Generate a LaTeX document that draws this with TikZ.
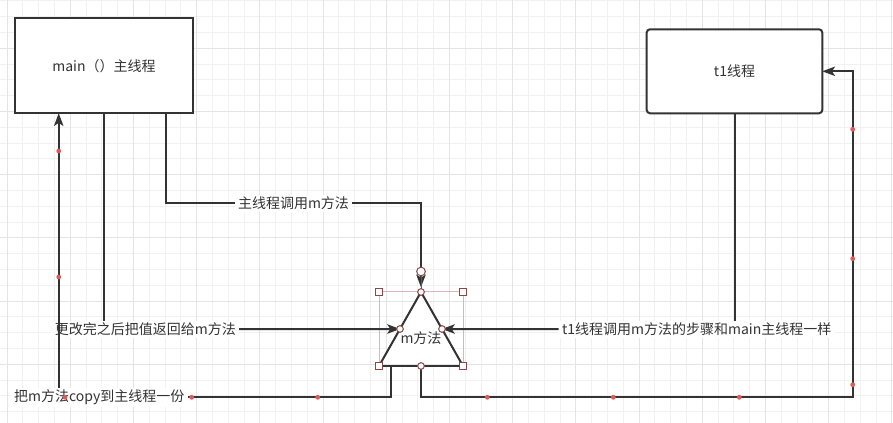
\documentclass[tikz,border=0pt]{standalone}
\usepackage{fontspec}
\setmainfont{Noto Sans CJK SC}
\usetikzlibrary{calc,arrows.meta}

\definecolor{linec}{HTML}{333333}
\definecolor{txtc}{HTML}{333333}
\definecolor{hdlc}{HTML}{8E4545}
\definecolor{selc}{HTML}{DDB5B5}
\definecolor{dotc}{HTML}{E05A5A}
\definecolor{gridminor}{HTML}{F1F1F1}
\definecolor{gridmajor}{HTML}{E4E4E4}
\newcommand{\fsz}{\fontsize{10.5pt}{12pt}\selectfont}

\begin{document}
\begin{tikzpicture}[x=0.75pt,y=-0.75pt,every node/.style={outer sep=0pt,inner sep=0pt,font=\fsz,text=txtc}]

	\tikzstyle{box}=[draw=linec,line width=1.5pt,fill=white]
	\tikzstyle{tag}=[fill=white,inner xsep=2.5pt,inner ysep=1.6pt]
	\tikzstyle{plain}=[draw=linec,line width=1.5pt]
	\tikzstyle{link}=[plain,-{Stealth[length=9.5pt,width=7pt,inset=2.2pt]}]
	\tikzstyle{ring}=[circle,draw=hdlc,fill=white,line width=0.75pt,minimum size=5pt]
	\tikzstyle{sq}=[rectangle,draw=hdlc,fill=white,line width=0.75pt,minimum size=5.5pt]
	\tikzstyle{reddot}=[circle,fill=dotc,minimum size=3.6pt]

	% background grid
	\fill[white] (0,0) rectangle (893,423);
	\useasboundingbox (0,0) rectangle (893,423);
	\foreach \k in {0,...,55}
		\draw[gridminor,line width=0.75pt] ({7+15.8*\k},0) -- ({7+15.8*\k},423);
	\foreach \k in {0,...,26}
		\draw[gridminor,line width=0.75pt] (0,{0.9+15.8*\k}) -- (893,{0.9+15.8*\k});
	\foreach \k in {0,...,14}
		\draw[gridmajor,line width=0.75pt] ({7+63.2*\k},0) -- ({7+63.2*\k},423);
	\foreach \k in {0,...,5}
		\draw[gridmajor,line width=0.75pt] (0,{48.3+63.2*\k}) -- (893,{48.3+63.2*\k});

	% threads
	\node (main) at (104,65.7) [box,minimum width=133.5pt,minimum height=71.25pt] {main（）主线程};
	\node (t1) at (734.5,71.3) [box,rounded corners=2.5pt,minimum width=131.7pt,minimum height=63pt] {t1线程};

	% method
	\node (m) at (421,329) [draw=selc,line width=0.75pt,minimum width=63pt,minimum height=55.5pt] {};
	\draw[plain,fill=white,line join=miter] (m.north) -- (m.south west) -- (m.south east) -- cycle;
	\node (mtxt) at ($(m.center)+(0,9)$) {m方法};
	\coordinate (mleft) at ($(m.north)!0.5!(m.south west)$);
	\coordinate (mright) at ($(m.north)!0.5!(m.south east)$);
	\coordinate (mtop) at ($(m.north)+(0,-20.5)$);

	\coordinate (mainR) at ($(main.south)+(61.7,0)$);
	\coordinate (mainIn) at ($(main.south)+(-45.3,0)$);
	\coordinate (cpy) at ($(m.south west)+(11.5,0)$);
	\coordinate (rc) at (852.7,397.3);

	% labels
	\node (lblCall) at (293.5,203.3) [tag] {主线程调用m方法};
	\node (lblBack) at (145.3,329.3) [tag] {更改完之后把值返回给m方法};
	\node (lblT1) at (696.7,329.3) [tag] {t1线程调用m方法的步骤和main主线程一样};
	\node (lblCopy) at (99.3,397.3) [tag] {把m方法copy到主线程一份};

	% connectors
	\draw[link,shorten >=3.5pt] (mainR) |- (lblCall) -| (m.north);
	\draw[plain] (main.south) -- (main.south |- lblBack.north);
	\draw[link] (lblBack) -- (mleft);
	\draw[plain] (t1.south) -- (t1.south |- lblT1.north);
	\draw[link] (lblT1) -- (mright);
	\draw[plain] (cpy) |- (lblCopy);
	\draw[link] (mainIn |- lblCopy.north) -- (mainIn);
	\draw[link] (m.south) |- (rc) |- (t1.east);

	% selection handles
	\draw[hdlc,line width=0.75pt] (mtop) -- (m.north);
	\node (htop) at (mtop) [ring,minimum size=6.5pt] {};
	\node (hn) at (m.north) [ring] {};
	\node (hw) at (mleft) [ring] {};
	\node (he) at (mright) [ring] {};
	\node (hs) at (m.south) [ring] {};
	\node (q1) at (m.north west) [sq] {};
	\node (q2) at (m.north east) [sq] {};
	\node (q3) at (m.south west) [sq] {};
	\node (q4) at (m.south east) [sq] {};

	\foreach \p in {(65,397.3),(191.7,397.3),(317.7,397.3),(58.7,151),(58.7,277),
		(487.3,397.3),(613.3,397.3),(739.3,397.3),(852.7,384.7),(852.7,258.7),(852.7,129.3)}
		\node at \p [reddot] {};

\end{tikzpicture}
\end{document}
